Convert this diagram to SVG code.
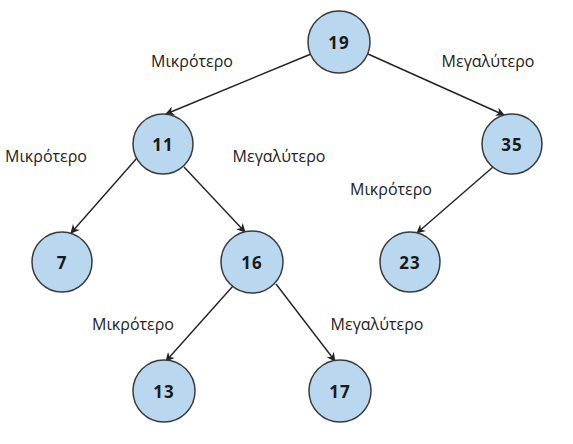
<svg xmlns="http://www.w3.org/2000/svg" width="573" height="444" viewBox="0 0 573 444">
<style>
.n{fill:#b9d8f0;stroke:#3a3a3a;stroke-width:1.5}
.t{font-family:"Open Sans","DejaVu Sans",sans-serif;font-weight:bold;font-size:17px;letter-spacing:1px;fill:#1a1a1a;text-anchor:middle;dominant-baseline:central}
.l{font-family:"Open Sans","DejaVu Sans",sans-serif;font-size:16px;fill:#222;text-anchor:middle}
.e{stroke:#222;stroke-width:1.4;fill:none;marker-end:url(#a)}
</style>
<defs>
<marker id="a" viewBox="0 0 10 10" refX="9" refY="5" markerWidth="9" markerHeight="9" markerUnits="userSpaceOnUse" orient="auto">
<path d="M0,0 L10,5 L0,10 L3,5 z" fill="#222"/>
</marker>
</defs>
<rect width="573" height="444" fill="#fff"/>
<g id="edges">
<line class="e" x1="311" y1="54" x2="166" y2="114"/>
<line class="e" x1="368" y1="54" x2="504" y2="115"/>
<line class="e" x1="137" y1="158" x2="71" y2="233"/>
<line class="e" x1="184" y1="167" x2="245" y2="232"/>
<line class="e" x1="493" y1="167" x2="417" y2="233"/>
<line class="e" x1="233" y1="286" x2="166" y2="361"/>
<line class="e" x1="276" y1="284" x2="335" y2="361"/>
</g>
<g id="labels">
<text class="l" x="192" y="67">Μικρότερο</text>
<text class="l" x="488" y="67">Μεγαλύτερο</text>
<text class="l" x="46" y="162">Μικρότερο</text>
<text class="l" x="279" y="162">Μεγαλύτερο</text>
<text class="l" x="391" y="195">Μικρότερο</text>
<text class="l" x="133" y="330">Μικρότερο</text>
<text class="l" x="377" y="330">Μεγαλύτερο</text>
</g>
<g id="n19"><circle class="n" cx="339" cy="42" r="31"/><text class="t" x="339" y="42">19</text></g>
<g id="n11"><circle class="n" cx="163" cy="144" r="30"/><text class="t" x="163" y="144">11</text></g>
<g id="n35"><circle class="n" cx="512" cy="144" r="30"/><text class="t" x="512" y="144">35</text></g>
<g id="n7"><circle class="n" cx="62" cy="262" r="30"/><text class="t" x="62" y="262">7</text></g>
<g id="n16"><circle class="n" cx="252" cy="262" r="31"/><text class="t" x="252" y="262">16</text></g>
<g id="n23"><circle class="n" cx="410" cy="262" r="30"/><text class="t" x="410" y="262">23</text></g>
<g id="n13"><circle class="n" cx="164" cy="391" r="31"/><text class="t" x="164" y="391">13</text></g>
<g id="n17"><circle class="n" cx="340" cy="391" r="31"/><text class="t" x="340" y="391">17</text></g>
</svg>
